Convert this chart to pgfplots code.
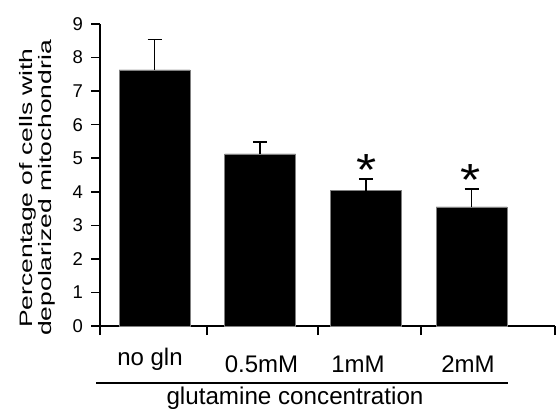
\documentclass[border=0pt]{standalone}
\usepackage{fontspec}
\setmainfont{Liberation Sans}
\usepackage{pgfplots}
\pgfplotsset{compat=1.18}
\begin{document}
\begin{tikzpicture}
\path[use as bounding box] (0,0) rectangle (556pt,410pt);
\begin{axis}[
  at={(100pt,84pt)}, anchor=south west,
  scale only axis, width=455pt, height=302pt,
  xmin=-0.5156, xmax=3.789, ymin=0, ymax=9,
  axis x line*=bottom, axis y line*=left,
  axis line style={line width=1.5pt, black},
  every tick/.style={line width=1.5pt, black},
  tick align=outside, major tick length=9pt,
  xtick={-0.5156,0.497,1.547,2.521,3.789}, xticklabels={},
  ytick={0,1,2,3,4,5,6,7,8,9},
  yticklabels={0,1,2,3,4,5,6,7,8,9},
  yticklabel style={font=\fontsize{18.5}{18.5}\selectfont, anchor=east, inner sep=0pt, xshift=-8pt},
  /pgf/number format/assume math mode=true,
  clip=false,
]
\addplot[ybar, bar width=71pt, fill=black, draw=gray, line width=0.6pt,
  error bars/.cd, y dir=plus, y explicit,
  error bar style={line width=1.5pt, black},
  error mark options={rotate=90, mark size=7pt, line width=1.5pt, black}]
  coordinates {
  (0,7.63) +- (0,0.91)
  (1,5.13) +- (0,0.35)
  (2,4.03) +- (0,0.35)
  (3,3.55) +- (0,0.53)
  };
\end{axis}
\node[rotate=90, inner sep=0pt] at (38pt,222pt) {\scalebox{1.47}[1]{\fontsize{18}{18}\selectfont\begin{tabular}{@{}c@{}}Percentage of cells with\\depolarized mitochondria\end{tabular}}};
\node[anchor=base, inner sep=0pt] at (150pt,45pt) {\fontsize{24}{24}\selectfont no gln};
\node[anchor=base, inner sep=0pt] at (261.5pt,38pt) {\fontsize{24}{24}\selectfont 0.5mM};
\node[anchor=base, inner sep=0pt] at (358pt,38pt) {\fontsize{24}{24}\selectfont 1mM};
\node[anchor=base, inner sep=0pt] at (468pt,38pt) {\fontsize{24}{24}\selectfont 2mM};
\node[anchor=base, inner sep=0pt] at (366.7pt,224.6pt) {\scalebox{1.15}[1]{\fontsize{45}{45}\selectfont *}};
\node[anchor=base, inner sep=0pt] at (470.3pt,214.1pt) {\scalebox{1.15}[1]{\fontsize{45}{45}\selectfont *}};
\draw[line width=1.5pt] (96pt,27pt) -- (508pt,27pt);
\node[anchor=base, inner sep=0pt] at (295pt,6pt) {\fontsize{24.2}{24.2}\selectfont glutamine concentration};
\end{tikzpicture}
\end{document}
